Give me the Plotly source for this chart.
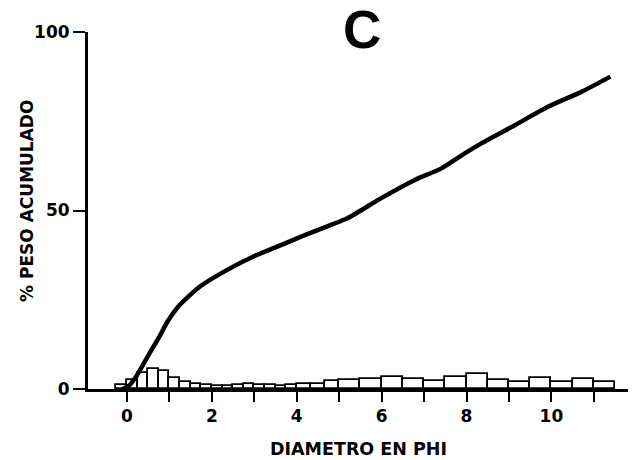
import plotly.graph_objects as go

# Histogram bins (phi): left edges, widths, weight percent
bin_left = [-0.25, 0.0, 0.25, 0.5, 0.75, 1.0, 1.25, 1.5, 1.75, 2.0, 2.25, 2.5, 2.75,
            3.0, 3.25, 3.5, 3.75, 4.0, 4.333, 4.667, 5.0, 5.5, 6.0, 6.5, 7.0, 7.5,
            8.0, 8.5, 9.0, 9.5, 10.0, 10.5, 11.0]
bin_width = [0.25] * 17 + [0.333, 0.334, 0.333] + [0.5] * 13
bin_pct = [1.2, 2.4, 4.4, 5.5, 5.1, 3.0, 2.1, 1.5, 1.1, 0.9, 0.9, 1.0, 1.4,
           1.2, 1.1, 0.8, 1.0, 1.5, 1.3, 2.2, 2.5, 2.9, 3.5, 2.8, 2.3, 3.3,
           4.2, 2.6, 2.1, 3.0, 2.1, 2.8, 2.1]

# Cumulative curve
phi_curve = [-0.1, 0.05, 0.22, 0.53, 0.77, 0.93, 1.24, 1.72, 2.35, 2.98, 3.54, 4.09,
             4.40, 5.19, 5.98, 6.77, 7.41, 7.96, 8.35, 9.14, 9.93, 10.72, 11.39]
cum_pct = [0.0, 1.0, 3.6, 10.0, 14.8, 18.4, 23.5, 28.7, 33.3, 37.1, 39.9, 42.6,
           44.1, 47.8, 53.4, 58.5, 61.8, 66.0, 68.8, 73.9, 79.1, 83.3, 87.5]

x_ticks = list(range(0, 12))
x_ticklabels = [str(v) if v % 2 == 0 else "" for v in x_ticks]
y_ticks = [0, 50, 100]

FONT = "DejaVu Sans"

bin_center = [l + w / 2 for l, w in zip(bin_left, bin_width)]

fig = go.Figure()
fig.add_trace(go.Bar(
    x=bin_center, y=bin_pct, width=bin_width,
    marker=dict(color="white", line=dict(color="black", width=1.8)),
    showlegend=False, hoverinfo="skip",
))
fig.add_trace(go.Scatter(
    x=phi_curve, y=cum_pct, mode="lines",
    line=dict(color="black", width=4.5, shape="spline", smoothing=0.6),
    showlegend=False,
))

fig.update_layout(
    width=628, height=452,
    margin=dict(l=80, r=4, t=24, b=71),
    paper_bgcolor="white", plot_bgcolor="white",
    font=dict(family=FONT, color="black"),
    bargap=0,
    xaxis=dict(
        range=[-0.92, 11.9], showgrid=False, zeroline=False,
        showline=True, linecolor="black", linewidth=3,
        ticks="outside", ticklen=10, tickwidth=2, tickcolor="black",
        tickvals=x_ticks, ticktext=x_ticklabels,
        tickfont=dict(family=FONT, size=17, color="black", weight="bold"),
    ),
    yaxis=dict(
        range=[0, 100], showgrid=False, zeroline=False,
        showline=True, linecolor="black", linewidth=3,
        ticks="outside", ticklen=12, tickwidth=2, tickcolor="black",
        tickvals=y_ticks,
        tickfont=dict(family=FONT, size=17, color="black", weight="bold"),
    ),
    annotations=[
        dict(text="C", xref="paper", yref="paper", x=0.504, y=1.006,
             xanchor="center", yanchor="middle", showarrow=False,
             font=dict(family="Liberation Sans", size=53, color="black", weight="bold")),
        dict(text="DIAMETRO EN PHI", xref="paper", yref="paper", x=0.497, y=-0.168,
             xanchor="center", yanchor="middle", showarrow=False,
             font=dict(family=FONT, size=17.5, color="black", weight="bold")),
        dict(text="% PESO ACUMULADO", xref="paper", yref="paper", x=-0.112, y=0.527,
             xanchor="center", yanchor="middle", showarrow=False, textangle=-90,
             font=dict(family=FONT, size=17, color="black", weight="bold")),
    ],
)

fig.write_html("out.html")
